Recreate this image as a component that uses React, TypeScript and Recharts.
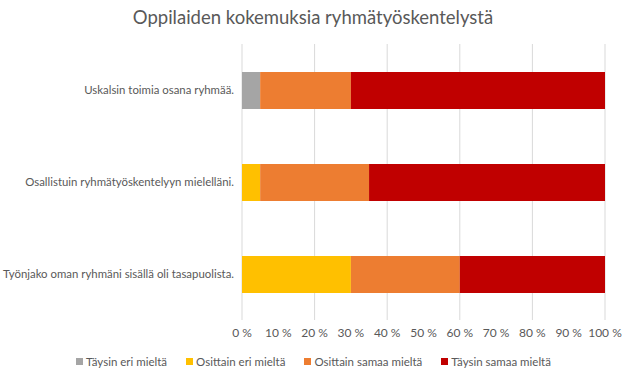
import { BarChart, Bar, XAxis, YAxis, CartesianGrid, Legend } from 'recharts';

const categories = [
  'Uskalsin toimia osana ryhmää.',
  'Osallistuin ryhmätyöskentelyyn mielelläni.',
  'Työnjako oman ryhmäni sisällä oli tasapuolista.',
];
const taysinEri = [5, 0, 0];
const osittainEri = [0, 5, 30];
const osittainSamaa = [25, 30, 30];
const taysinSamaa = [70, 65, 40];
const xTicks = [0, 10, 20, 30, 40, 50, 60, 70, 80, 90, 100];

const seriesNames = ['Täysin eri mieltä', 'Osittain eri mieltä', 'Osittain samaa mieltä', 'Täysin samaa mieltä'];
const seriesColors = ['#a5a5a5', '#ffc000', '#ed7d31', '#c00000'];

const data = categories.map((name, i) => ({
  name,
  taysinEri: taysinEri[i],
  osittainEri: osittainEri[i],
  osittainSamaa: osittainSamaa[i],
  taysinSamaa: taysinSamaa[i],
}));

const font = 'Lato, "Open Sans", sans-serif';
const textColor = '#595959';

function CategoryTick({ x, y, payload }: any) {
  return (
    <text x={x} y={y} dy="0.35em" textAnchor="end" fill={textColor} fontSize={11.4} fontFamily={font}>
      {payload.value}
    </text>
  );
}

function LegendContent() {
  return (
    <div
      style={{
        display: 'flex',
        justifyContent: 'center',
        gap: 19,
        paddingTop: 5,
        paddingLeft: 22,
        fontSize: 11.5,
        color: textColor,
        fontFamily: font,
      }}
    >
      {seriesNames.map((n, i) => (
        <span key={n} style={{ display: 'flex', alignItems: 'center' }}>
          <span style={{ width: 7, height: 7, background: seriesColors[i], marginRight: 3, display: 'inline-block' }} />
          {n}
        </span>
      ))}
    </div>
  );
}

export default function App() {
  return (
    <div
      style={{
        position: 'absolute',
        left: 0,
        top: 0,
        width: 626,
        height: 380,
        background: '#fff',
        fontFamily: font,
      }}
    >
      <div
        style={{
          position: 'absolute',
          top: 6,
          width: 626,
          textAlign: 'center',
          fontSize: 18.5,
          color: textColor,
        }}
      >
        Oppilaiden kokemuksia ryhmätyöskentelystä
      </div>
      <BarChart
        width={626}
        height={380}
        data={data}
        layout="vertical"
        margin={{ top: 44, right: 21, left: 0, bottom: 0 }}
        barSize={37}
      >
        <CartesianGrid horizontal={false} stroke="#d9d9d9" />
        <XAxis
          type="number"
          domain={[0, 100]}
          ticks={xTicks}
          tickFormatter={(v) => `${v} %`}
          axisLine={false}
          tickLine={false}
          tick={{ fill: textColor, fontSize: 12, fontFamily: font }}
          height={30}
        />
        <YAxis
          type="category"
          dataKey="name"
          width={242}
          axisLine={false}
          tickLine={false}
          tick={<CategoryTick />}
        />
        <Legend verticalAlign="bottom" height={30} content={<LegendContent />} />
        <Bar dataKey="taysinEri" name={seriesNames[0]} stackId="a" fill={seriesColors[0]} isAnimationActive={false} />
        <Bar dataKey="osittainEri" name={seriesNames[1]} stackId="a" fill={seriesColors[1]} isAnimationActive={false} />
        <Bar dataKey="osittainSamaa" name={seriesNames[2]} stackId="a" fill={seriesColors[2]} isAnimationActive={false} />
        <Bar dataKey="taysinSamaa" name={seriesNames[3]} stackId="a" fill={seriesColors[3]} isAnimationActive={false} />
      </BarChart>
    </div>
  );
}
